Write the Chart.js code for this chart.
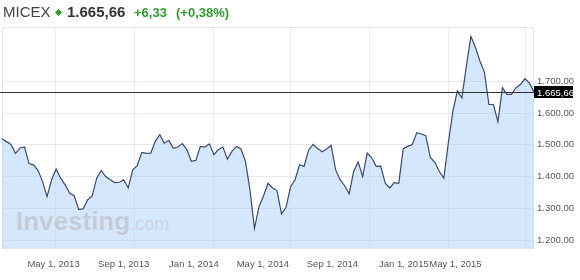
<!DOCTYPE html>
<html>
<head>
<meta charset="utf-8">
<script src="https://cdn.jsdelivr.net/npm/chart.js@4.4.1/dist/chart.umd.min.js"></script>
<style>
body { margin: 0; background: #fff; }
#wrap { position: relative; width: 580px; height: 280px; font-family: "Liberation Sans", Arial, sans-serif; }
canvas { position: absolute; left: 0; top: 0; }
.h { position: absolute; white-space: nowrap; }
</style>
</head>
<body>
<div id="wrap">
  <canvas id="chart" width="580" height="280"></canvas>
  <div class="h" style="left:3px;top:4px;line-height:15px;font-size:15px;color:#444">MICEX</div>
  <div class="h" style="left:55.5px;top:10px;width:5px;height:5px;background:#2e9e2e;transform:rotate(45deg)"></div>
  <div class="h" style="left:67px;top:4px;line-height:15px;font-size:15px;font-weight:bold;color:#333">1.665,66</div>
  <div class="h" style="left:134px;top:6px;line-height:13px;font-size:13px;font-weight:bold;color:#2e9e2e">+6,33</div>
  <div class="h" style="left:176px;top:6px;line-height:13px;font-size:13px;font-weight:bold;color:#2e9e2e">(+0,38%)</div>
  <div class="h" style="left:16px;top:208px;line-height:26px"><span style="font-size:26px;font-weight:bold;color:#c6ccd5">Investing</span><span style="font-size:18px;color:#cdd4de">.com</span></div>
</div>
<script>
// weekly closes, first week starts 2013-02-07
const startDate = '2013-02-07';
const closes = [
  1519, 1510, 1501, 1473, 1490, 1493, 1441, 1437, 1419, 1384,
  1337, 1390, 1424, 1395, 1374, 1348, 1340, 1297, 1298, 1327,
  1339, 1395, 1419, 1400, 1390, 1381, 1382, 1390, 1364, 1421,
  1434, 1476, 1473, 1474, 1511, 1532, 1505, 1514, 1489, 1493,
  1504, 1485, 1448, 1451, 1495, 1493, 1503, 1469, 1485, 1493,
  1455, 1479, 1495, 1487, 1448, 1358, 1237, 1305, 1339, 1379,
  1364, 1356, 1282, 1303, 1367, 1390, 1437, 1432, 1483, 1501,
  1488, 1478, 1487, 1498, 1421, 1390, 1371, 1346, 1416, 1446,
  1400, 1474, 1459, 1432, 1433, 1379, 1364, 1381, 1379, 1488,
  1495, 1501, 1538, 1534, 1529, 1460, 1445, 1416, 1395, 1506,
  1605, 1670, 1648, 1748, 1841, 1807, 1764, 1729, 1627, 1627,
  1572, 1680, 1659, 1659, 1680, 1690, 1708, 1694, 1665.66
];
const lastPrice = 1665.66;
const gridDates = ['2013-05-01', '2013-09-01', '2014-01-01', '2014-05-01', '2014-09-01', '2015-01-01', '2015-05-01'];
const xLabels = ['May 1, 2013', 'Sep 1, 2013', 'Jan 1, 2014', 'May 1, 2014', 'Sep 1, 2014', 'Jan 1, 2015', 'May 1, 2015'];
const yTicks = [1200, 1300, 1400, 1500, 1600, 1700];

const DAY = 86400000;
const day0 = Date.parse('2013-01-01');
const toDay = s => (Date.parse(s) - day0) / DAY;

const firstDay = toDay(startDate);
const points = closes.map((v, i) => ({ x: firstDay + 7 * i, y: v }));
const lastDay = points[points.length - 1].x;
const gridDays = gridDates.map(toDay);
// investing.com puts its date labels a bit off the grid lines
const labelDays = [117, 226, 335, 442, 550, 661, 741];

function fmt(v) {
  const p = v.toFixed(2).split('.');
  return p[0].replace(/\B(?=(\d{3})+(?!\d))/g, '.') + ',' + p[1];
}

const tickFont = { family: '"Liberation Sans", Arial, sans-serif', size: 9.5 };

const frame = {
  id: 'frame',
  beforeDatasetsDraw(chart) {
    const { ctx, chartArea: a } = chart;
    ctx.save();
    ctx.strokeStyle = '#e4e6ea';
    ctx.lineWidth = 1;
    ctx.strokeRect(a.left + 0.5, a.top + 0.5, a.right - a.left - 1, a.bottom - a.top);
    ctx.restore();
  }
};

const priceLine = {
  id: 'priceLine',
  afterDatasetsDraw(chart) {
    const { ctx, chartArea: a, scales } = chart;
    const py = Math.round(scales.y.getPixelForValue(lastPrice)) + 0.5;
    ctx.save();
    ctx.strokeStyle = '#333';
    ctx.lineWidth = 1;
    ctx.beginPath();
    ctx.moveTo(0, py);
    ctx.lineTo(a.right, py);
    ctx.stroke();
    ctx.fillStyle = '#000';
    ctx.fillRect(a.right, py - 6.5, 39, 12);
    ctx.fillStyle = '#fff';
    ctx.font = '9.5px "Liberation Sans", Arial, sans-serif';
    ctx.textBaseline = 'middle';
    ctx.fillText(fmt(lastPrice), a.right + 3, py + 0.5);
    ctx.restore();
  }
};

const ctx = document.getElementById('chart');
const chart = new Chart(ctx, {
  type: 'line',
  data: {
    datasets: [{
      data: points,
      borderColor: '#3c4a6c',
      borderWidth: 1.2,
      backgroundColor: 'rgba(185,215,250,0.6)',
      fill: 'start',
      pointRadius: 0,
      tension: 0
    }]
  },
  options: {
    responsive: false,
    animation: false,
    layout: { padding: { left: 2, top: 27, right: 0, bottom: 0 } },
    plugins: { legend: { display: false }, tooltip: { enabled: false } },
    scales: {
      x: {
        type: 'linear',
        min: firstDay,
        max: lastDay,
        afterBuildTicks: s => { s.ticks = gridDays.map(v => ({ value: v })); },
        ticks: { display: false },
        grid: { color: '#e8ebf0', drawTicks: false },
        border: { display: false },
        afterFit: s => { s.height = 0; }
      },
      x2: {
        type: 'linear',
        position: 'bottom',
        min: firstDay,
        max: lastDay,
        afterBuildTicks: s => { s.ticks = labelDays.map(v => ({ value: v })); },
        ticks: {
          callback: (v, i) => xLabels[i],
          font: tickFont,
          color: '#555',
          padding: 3,
          maxRotation: 0,
          autoSkip: false
        },
        grid: { display: false },
        border: { display: false },
        afterFit: s => { s.height = 32; }
      },
      y: {
        position: 'right',
        min: 1175,
        max: 1871,
        afterBuildTicks: s => { s.ticks = yTicks.map(v => ({ value: v })); },
        ticks: { callback: v => fmt(v), font: tickFont, color: '#555', padding: 3 },
        grid: { color: '#e8e8ec', drawTicks: false },
        border: { display: false },
        afterFit: s => { s.width = 46; }
      }
    }
  },
  plugins: [frame, priceLine]
});
</script>
</body>
</html>
